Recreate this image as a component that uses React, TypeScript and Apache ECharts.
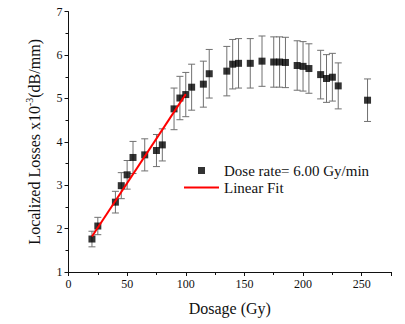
import React, { useEffect, useRef } from "react";
import * as echarts from "echarts";

const doses = [20, 25, 40, 45, 50, 55, 65, 75, 80, 90, 95, 100, 105, 115, 120, 135, 140, 145, 155, 165, 175, 180, 185, 195, 200, 205, 215, 220, 225, 230, 255];
const losses = [1.76, 2.06, 2.61, 2.99, 3.24, 3.64, 3.70, 3.80, 3.93, 4.76, 5.01, 5.09, 5.26, 5.33, 5.57, 5.63, 5.79, 5.81, 5.81, 5.86, 5.84, 5.84, 5.83, 5.76, 5.74, 5.69, 5.55, 5.46, 5.49, 5.29, 4.96];
const errors = [0.18, 0.2, 0.25, 0.3, 0.33, 0.37, 0.37, 0.37, 0.37, 0.48, 0.5, 0.51, 0.53, 0.53, 0.56, 0.57, 0.57, 0.57, 0.57, 0.58, 0.58, 0.58, 0.58, 0.57, 0.57, 0.57, 0.56, 0.55, 0.55, 0.53, 0.49];
const fitX = [20, 100];
const fitY = [1.82, 5.1];

const FONT = "Liberation Serif";
const C = "#111";

export default function App() {
  const ref = useRef<HTMLDivElement>(null);
  useEffect(() => {
    document.body.style.margin = "0";
    if (!ref.current) return;
    const chart = echarts.init(ref.current, null, { renderer: "svg" });
    const errData = doses.map((d, i) => [d, losses[i] - errors[i], losses[i] + errors[i]]);
    chart.setOption({
      animation: false,
      textStyle: { fontFamily: FONT, color: C },
      grid: { left: 68.5, right: 14, top: 11.7, bottom: 52, containLabel: false },
      legend: {
        orient: "vertical",
        left: 184,
        top: 163,
        padding: 0,
        itemWidth: 35,
        itemHeight: 7,
        itemGap: 2,
        symbolKeepAspect: true,
        textStyle: { fontFamily: FONT, fontSize: 15, color: C },
        data: [
          { name: "Dose rate= 6.00 Gy/min", icon: "path://M0,0h1v1h-1z" },
          { name: "Linear Fit", icon: "path://M0,0h35v2h-35z" },
        ],
      },
      xAxis: {
        type: "value",
        min: 0,
        max: 275,
        interval: 50,
        name: "Dosage (Gy)",
        nameLocation: "middle",
        nameGap: 28,
        nameRotate: 360,
        nameTextStyle: { fontFamily: FONT, fontSize: 16, color: C },
        axisLine: { show: true, onZero: false, lineStyle: { color: C, width: 1 } },
        axisTick: { show: true, inside: false, length: 4, lineStyle: { color: C } },
        minorTick: { show: true, splitNumber: 2, length: 3, lineStyle: { color: C } },
        splitLine: { show: false },
        axisLabel: {
          fontFamily: FONT,
          fontSize: 12,
          color: C,
          margin: 6,
          rotate: 360,
          formatter: (v: number) => (v % 50 === 0 ? String(v) : ""),
        },
      },
      yAxis: {
        type: "value",
        min: 1,
        max: 7,
        interval: 1,
        name: "{a|Localized Losses x10}{b|-3}{a|(dB/mm)}",
        nameLocation: "middle",
        nameGap: 26,
        nameTextStyle: {
          fontFamily: FONT,
          color: C,
          rich: {
            a: { fontFamily: FONT, fontSize: 16, color: C, lineHeight: 18, verticalAlign: "bottom" },
            b: { fontFamily: FONT, fontSize: 10, color: C, lineHeight: 18, verticalAlign: "top" },
          },
        },
        axisLine: { show: true, onZero: false, lineStyle: { color: C, width: 1 } },
        axisTick: { show: true, inside: false, length: 4, lineStyle: { color: C } },
        minorTick: { show: true, splitNumber: 2, length: 3, lineStyle: { color: C } },
        splitLine: { show: false },
        axisLabel: { fontFamily: FONT, fontSize: 12, color: C, margin: 6, rotate: 360 },
      },
      series: [
        {
          type: "custom",
          name: "errors",
          data: errData,
          z: 1,
          silent: true,
          renderItem: (params: any, api: any) => {
            const x = api.value(0);
            const lo = api.coord([x, api.value(1)]);
            const hi = api.coord([x, api.value(2)]);
            const w = 3.5;
            const style = { stroke: "#707070", lineWidth: 1 };
            return {
              type: "group",
              children: [
                { type: "line", shape: { x1: lo[0], y1: lo[1], x2: hi[0], y2: hi[1] }, style },
                { type: "line", shape: { x1: lo[0] - w, y1: lo[1], x2: lo[0] + w, y2: lo[1] }, style },
                { type: "line", shape: { x1: hi[0] - w, y1: hi[1], x2: hi[0] + w, y2: hi[1] }, style },
              ],
            };
          },
        },
        {
          type: "scatter",
          name: "Dose rate= 6.00 Gy/min",
          data: doses.map((d, i) => [d, losses[i]]),
          symbol: "rect",
          symbolSize: 7,
          itemStyle: { color: "#000" },
          z: 3,
        },
        {
          type: "line",
          name: "Linear Fit",
          data: fitX.map((x, i) => [x, fitY[i]]),
          symbol: "none",
          lineStyle: { color: "#ff0000", width: 2 },
          itemStyle: { color: "#ff0000" },
          z: 4,
        },
      ],
    });
    return () => chart.dispose();
  }, []);
  return <div ref={ref} style={{ width: 405, height: 324 }} />;
}
